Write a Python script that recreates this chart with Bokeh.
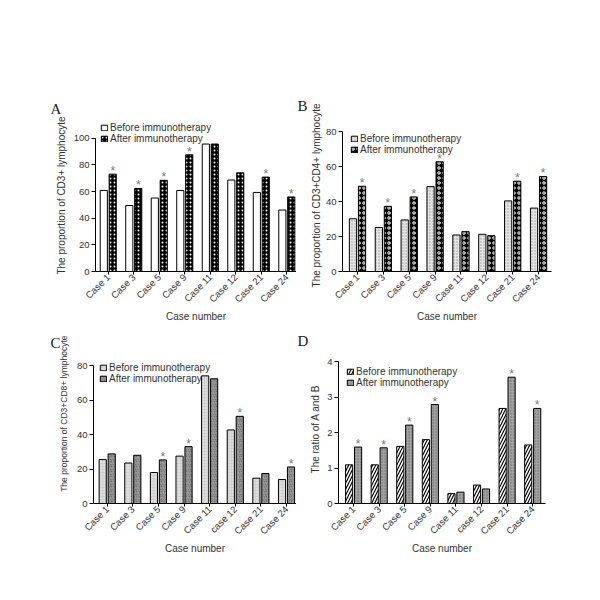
from math import pi
from bokeh.plotting import figure
from bokeh.layouts import column, row
from bokeh.models import ColumnDataSource, Range1d, FixedTicker
from bokeh.transform import dodge
from bokeh.core.properties import value
from bokeh.embed import file_html
from bokeh.resources import INLINE

FONT = "Liberation Sans"
SERIF = "Liberation Serif"
TXT = "#333333"

cases_ab = ["Case 1", "Case 3", "Case 5", "Case 9", "Case 11", "Case 12", "Case 21", "Case 24"]
cases_cd = ["Case 1", "Case 3", "Case 5", "Case 9", "Case 11", "case 12", "Case 21", "Case 24"]
series_names = ["Before immunotherapy", "After immunotherapy"]

a_before = [60.8, 49.5, 55.1, 60.8, 95.6, 68.6, 59.3, 46.1]
a_after = [73.0, 62.3, 68.4, 87.5, 95.6, 74.0, 70.8, 55.9]
a_star = [1, 1, 1, 1, 0, 0, 1, 1]

b_before = [30.2, 25.2, 29.5, 48.6, 20.9, 21.3, 40.4, 36.3]
b_after = [48.8, 37.3, 42.7, 62.8, 22.8, 20.5, 51.7, 54.4]
b_star = [1, 1, 1, 1, 0, 0, 1, 1]

c_before = [25.5, 23.5, 18.0, 27.5, 74.1, 42.7, 14.7, 13.9]
c_after = [28.8, 28.0, 25.3, 33.0, 72.4, 50.6, 17.4, 21.2]
c_star = [0, 0, 1, 1, 0, 1, 0, 1]

d_before = [1.09, 1.09, 1.61, 1.80, 0.28, 0.52, 2.68, 1.65]
d_after = [1.59, 1.57, 2.21, 2.79, 0.32, 0.41, 3.56, 2.68]
d_star = [1, 1, 1, 1, 0, 0, 1, 1]

a_ticks = [0, 20, 40, 60, 80, 100]
b_ticks = [0, 20, 40, 60, 80]
c_ticks = [0, 20, 40, 60, 80]
d_ticks = [0, 1, 2, 3, 4]


def panel(cases, before, after, star, ylabel, yticks, ytop, xr, letter, geo, st_before, st_after,
          ylabel_size="10px"):
    (bl, fw, br, bt, fh, bb, lab_standoff, leg_xy, t_off, t_standoff) = geo
    idx = list(range(len(cases)))
    p = figure(x_range=Range1d(*xr),
               y_range=Range1d(yticks[0], ytop),
               width=bl + fw + br, height=bt + fh + bb,
               min_border_left=bl, min_border_right=br,
               min_border_top=bt - 7, min_border_bottom=bb,
               output_backend="svg", toolbar_location=None)
    p.outline_line_color = None
    p.background_fill_color = "white"
    p.border_fill_color = "white"
    p.xgrid.grid_line_color = None
    p.ygrid.grid_line_color = None

    p.title.text = letter
    p.title.align = "left"
    p.title.offset = t_off
    p.title.standoff = t_standoff
    p.title.text_font = SERIF
    p.title.text_font_size = "15px"
    p.title.text_font_style = "normal"
    p.title.text_color = "#222222"

    src = ColumnDataSource(dict(idx=idx, before=before, after=after))
    p.vbar(x=dodge("idx", -0.175), top="before", width=0.28,
           source=src, line_color="black", line_width=1,
           legend_label=series_names[0], **st_before)
    p.vbar(x=dodge("idx", 0.175), top="after", width=0.28,
           source=src, line_color="black", line_width=1,
           legend_label=series_names[1], **st_after)

    si = [i for i, s in zip(idx, star) if s]
    sy = [v for v, s in zip(after, star) if s]
    ssrc = ColumnDataSource(dict(idx=si, y=sy, t=["*"] * len(si)))
    p.text(x=dodge("idx", 0.175), y="y", text="t", source=ssrc,
           text_font=value(FONT), text_font_size="12px", text_color="#777777",
           text_align="center", text_baseline="alphabetic", y_offset=-3)

    for ax in (p.xaxis, p.yaxis):
        ax.axis_line_color = "black"
        ax.major_tick_line_color = "black"
        ax.major_tick_in = 0
        ax.minor_tick_line_color = None
        ax.major_label_text_font = FONT
        ax.major_label_text_font_size = "9.5px"
        ax.major_label_text_color = TXT
        ax.axis_label_text_font = FONT
        ax.axis_label_text_font_size = "10px"
        ax.axis_label_text_font_style = "normal"
        ax.axis_label_text_color = TXT

    p.yaxis.major_tick_out = 4
    p.yaxis.major_label_standoff = 2
    p.yaxis.ticker = FixedTicker(ticks=yticks)
    p.yaxis.bounds = (yticks[0], yticks[-1])
    p.yaxis.axis_label = ylabel
    p.yaxis.axis_label_text_font_size = ylabel_size
    p.yaxis.axis_label_standoff = lab_standoff

    p.xaxis.major_tick_out = 3
    p.xaxis.major_label_standoff = 1
    p.xaxis.ticker = FixedTicker(ticks=idx)
    p.xaxis.major_label_overrides = {i: c for i, c in zip(idx, cases)}
    p.xaxis.axis_label = "Case number"
    p.xaxis.axis_label_standoff = 0
    p.xaxis.major_label_orientation = pi / 4

    leg = p.legend[0]
    leg.location = leg_xy
    leg.background_fill_alpha = 0
    leg.border_line_color = None
    leg.padding = 0
    leg.margin = 0
    leg.spacing = 0
    leg.glyph_width = 8
    leg.glyph_height = 7
    leg.label_height = 9
    leg.label_standoff = 2
    leg.label_text_font = FONT
    leg.label_text_font_size = "10px"
    leg.label_text_color = TXT
    leg.label_text_baseline = "middle"
    return p


# (border_left, frame_w, border_right, border_top, frame_h, border_bottom,
#  ylabel_standoff, legend_xy, title_offset, title_standoff)
geo_a = (95, 201, 0, 120, 155, 50, 4, (5, 127), -45, 5)
geo_b = (46, 209, 30, 126, 149, 50, 1, (8, 116), -45, 12)
geo_c = (93, 203, 0, 31, 147, 58, 5, (6, 119), -43, 7)
geo_d = (42, 207, 36, 35, 143, 58, 3, (8, 115), -41, 11)

xr_a = (-0.5, 7.38)
xr_b = (-0.58, 7.5)
xr_c = (-0.535, 7.39)
xr_d = (-0.59, 7.5)

st_a0 = dict(fill_color="white")
st_a1 = dict(fill_color="black", hatch_pattern="dot", hatch_color="white", hatch_scale=4, hatch_weight=1.5)
st_b0 = dict(fill_color="#e4e4e4", hatch_pattern="dot", hatch_color="#9a9a9a", hatch_scale=3, hatch_weight=0.8)
st_b1 = dict(fill_color="black", hatch_pattern="ring", hatch_color="white", hatch_scale=5, hatch_weight=1)
st_c0 = dict(fill_color="#d0d0d0", hatch_pattern="dot", hatch_color="#f4f4f4", hatch_scale=3, hatch_weight=1)
st_c1 = dict(fill_color="#333333", hatch_pattern="spiral", hatch_color="#dddddd", hatch_scale=5, hatch_weight=0.8)
st_d0 = dict(fill_color="white", hatch_pattern="right_diagonal_line", hatch_color="black", hatch_scale=6, hatch_weight=1.2)
st_d1 = dict(fill_color="#a0a0a0", hatch_pattern="dot", hatch_color="#707070", hatch_scale=3, hatch_weight=0.8)

c_ylabel = "\u00a0" * 13 + "The proportion of CD3+CD8+ lymphocyte"

pa = panel(cases_ab, a_before, a_after, a_star, "The proportion of CD3+ lymphocyte", a_ticks, 114, xr_a, "A", geo_a, st_a0, st_a1)
pb = panel(cases_ab, b_before, b_after, b_star, "The proportion of CD3+CD4+ lymphocyte", b_ticks, 87, xr_b, "B", geo_b, st_b0, st_b1)
pc = panel(cases_cd, c_before, c_after, c_star, c_ylabel, c_ticks, 86.5, xr_c, "C", geo_c, st_c0, st_c1, ylabel_size="8.5px")
pd = panel(cases_cd, d_before, d_after, d_star, "The ratio of A and B", d_ticks, 4.2, xr_d, "D", geo_d, st_d0, st_d1)

layout = column(row(pa, pb), row(pc, pd))
open("out.html", "w").write(file_html(layout, INLINE))
